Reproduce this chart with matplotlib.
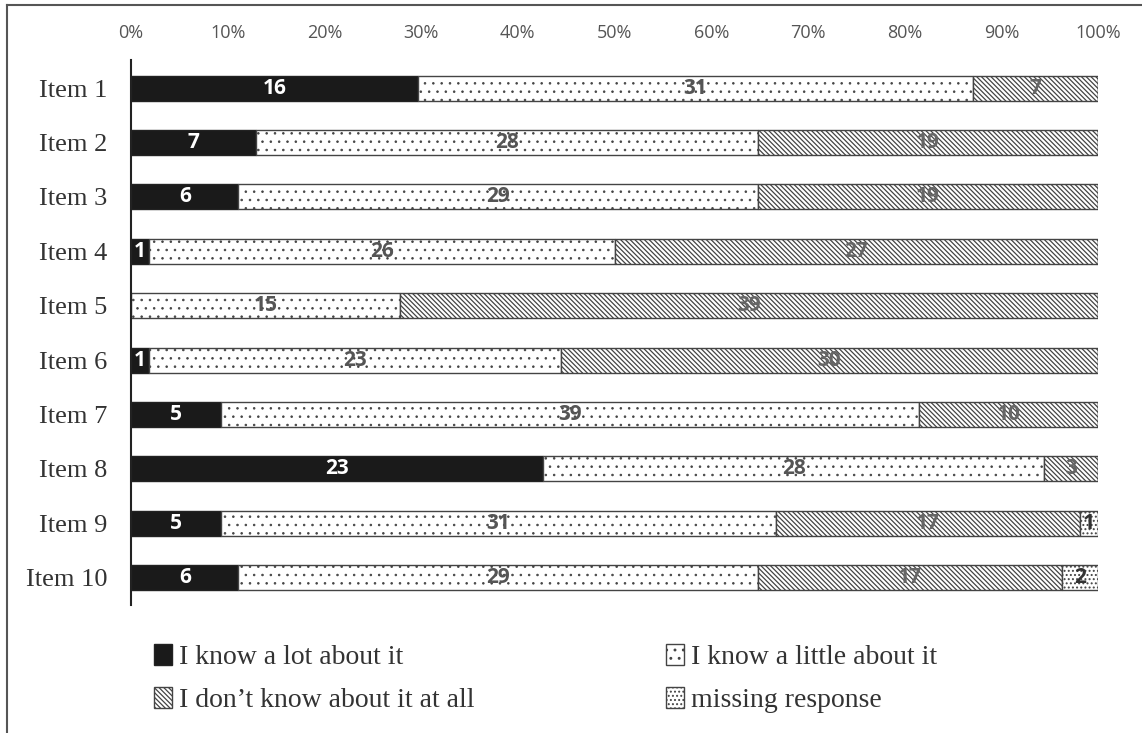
import matplotlib.pyplot as plt
import numpy as np
from matplotlib.lines import Line2D

items = ["Item 1", "Item 2", "Item 3", "Item 4", "Item 5",
         "Item 6", "Item 7", "Item 8", "Item 9", "Item 10"]
know_lot = [16, 7, 6, 1, 0, 1, 5, 23, 5, 6]
know_little = [31, 28, 29, 26, 15, 23, 39, 28, 31, 29]
dont_know = [7, 19, 19, 27, 39, 30, 10, 3, 17, 17]
missing = [0, 0, 0, 0, 0, 0, 0, 0, 1, 2]

series_names = ["I know a lot about it", "I know a little about it",
                "I don\u2019t know about it at all", "missing response"]

counts = np.array([know_lot, know_little, dont_know, missing], dtype=float)
totals = counts.sum(axis=0)
shares = counts / totals

styles = [
    dict(color="#1a1a1a", hatch=None, txt="white", hlw=1.0),
    dict(color="white", hatch="..", txt="#555555", hlw=0.6),
    dict(color="white", hatch="\\\\\\\\\\\\\\", txt="#666666", hlw=0.9),
    dict(color="white", hatch="....", txt="#333333", hlw=0.9),
]

fig = plt.figure(figsize=(11.42, 7.33), dpi=100)
ax = fig.add_axes([0.1147, 0.175, 0.8468, 0.743])

y = np.arange(len(items))
left = np.zeros(len(items))
handles = []
for k in range(4):
    st = styles[k]
    plt.rcParams["hatch.linewidth"] = st["hlw"]
    bars = ax.barh(y, shares[k], left=left, height=0.46,
                   color=st["color"], hatch=st["hatch"],
                   edgecolor="#222222", linewidth=1.0)
    if st["hatch"]:
        for b in bars:
            b.set_edgecolor("#444444")
    for i in range(len(items)):
        v = counts[k, i]
        if v > 0:
            ax.text(left[i] + shares[k, i] / 2, y[i], f"{int(v)}",
                    ha="center", va="center", fontsize=15, fontweight="bold",
                    color=st["txt"], family="Open Sans")
    handles.append(bars)
    left = left + shares[k]

ax.set_xlim(0, 1)
ax.set_ylim(9.5, -0.515)
ax.set_yticks(y)
ax.set_yticklabels(items, family="Liberation Serif", fontsize=19, color="#333333")
ax.set_xticks(np.linspace(0, 1, 11))
ax.set_xticklabels([f"{p}%" for p in range(0, 101, 10)],
                   family="Open Sans", fontsize=13, color="#555555")
ax.xaxis.tick_top()
ax.tick_params(axis="x", length=0, pad=13)
ax.tick_params(axis="y", length=0, pad=17)
for s in ["top", "right", "bottom"]:
    ax.spines[s].set_visible(False)
ax.spines["left"].set_linewidth(1.5)
ax.spines["left"].set_color("#222222")

# legend fills column-wise, so reorder to get row-wise layout
order = [0, 2, 1, 3]
leg = fig.legend([handles[i] for i in order],
                 [series_names[i] for i in order], loc="upper left",
                 bbox_to_anchor=(0.113, 0.155), ncol=2, frameon=False,
                 prop={"family": "Liberation Serif", "size": 20},
                 handlelength=0.65, handleheight=0.75, handletextpad=0.25,
                 columnspacing=6.9, labelspacing=0.62)
for t in leg.get_texts():
    t.set_color("#333333")

fig.add_artist(Line2D([7 / 1142, 1], [1 - 5 / 733, 1 - 5 / 733],
                      color="#555555", lw=1.5, transform=fig.transFigure))
fig.add_artist(Line2D([7 / 1142, 7 / 1142], [0, 1 - 5 / 733],
                      color="#555555", lw=1.5, transform=fig.transFigure))

fig.savefig("out.png", dpi=100)
